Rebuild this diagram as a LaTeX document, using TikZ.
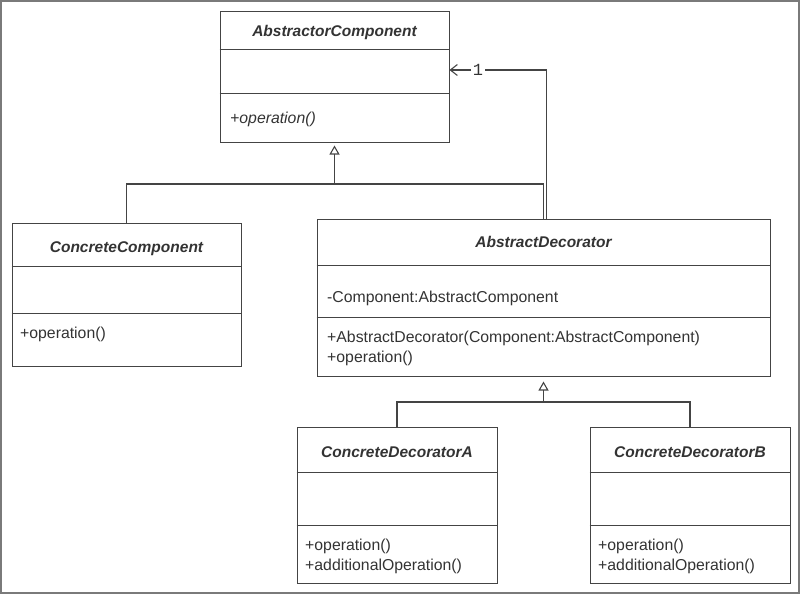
\documentclass[tikz,border=0pt]{standalone}
\usepackage{fontspec}
\setmainfont{Liberation Sans}
\newfontfamily\monofont{Liberation Mono}
\usetikzlibrary{arrows.meta}
\definecolor{txt}{HTML}{333333}
\definecolor{ln}{HTML}{444444}
\definecolor{frm}{HTML}{7A7A7A}
\begin{document}
\begin{tikzpicture}[x=1pt,y=-1pt,
  classbox/.style={draw=ln, line width=1pt, rectangle, inner sep=0pt},
  divider/.style={draw=ln, line width=1pt},
  conn/.style={draw=ln, line width=1.1pt},
  title/.style={anchor=base, inner sep=0pt, text=txt, font=\fontsize{15.5}{20}\selectfont\bfseries\itshape},
  member/.style={anchor=base west, inner sep=0pt, text=txt, font=\fontsize{15.8}{20}\selectfont},
  mult/.style={fill=white, inner sep=1.5pt, text=txt, font=\fontsize{17}{20}\selectfont\monofont},
  inherit/.style={conn, -{Triangle[open, length=9pt, width=10pt]}},
  assoc/.style={conn, -{Straight Barb[length=7pt, width=11pt]}}
]
\useasboundingbox (0,0) rectangle (800,594);
\draw[frm, line width=1.6pt] (0.8,0.8) rectangle (799.2,593.2);

% AbstractorComponent
\node[classbox, minimum width=229pt, minimum height=130pt] (ac) at (334.5,77) {};
\draw[divider] (ac.west |- 0,50) -- (ac.east |- 0,50);
\draw[divider] (ac.west |- 0,93) -- (ac.east |- 0,93);
\node[title] (actitle) at (334.5,37) {AbstractorComponent};
\node[member] (acop) at (230,123) {\itshape +operation()};

% ConcreteComponent
\node[classbox, minimum width=229pt, minimum height=143pt] (cc) at (126.5,294.5) {};
\draw[divider] (cc.west |- 0,266) -- (cc.east |- 0,266);
\draw[divider] (cc.west |- 0,313) -- (cc.east |- 0,313);
\node[title] (cctitle) at (126.5,252) {ConcreteComponent};
\node[member] (ccop) at (20,338) {+operation()};

% AbstractDecorator
\node[classbox, minimum width=453pt, minimum height=157pt] (ad) at (543.5,297.5) {};
\draw[divider] (ad.west |- 0,265) -- (ad.east |- 0,265);
\draw[divider] (ad.west |- 0,317) -- (ad.east |- 0,317);
\node[title] (adtitle) at (543.5,247) {AbstractDecorator};
\node[member] (adattr) at (327,302) {-Component:AbstractComponent};
\node[member] (adctor) at (327,342) {+AbstractDecorator(Component:AbstractComponent)};
\node[member] (adop) at (327,362) {+operation()};

% ConcreteDecoratorA
\node[classbox, minimum width=200pt, minimum height=156pt] (cda) at (397,505) {};
\draw[divider] (cda.west |- 0,472) -- (cda.east |- 0,472);
\draw[divider] (cda.west |- 0,525) -- (cda.east |- 0,525);
\node[title] (cdatitle) at (397,457) {ConcreteDecoratorA};
\node[member] (cdaop) at (305,550) {+operation()};
\node[member] (cdaadd) at (305,570) {+additionalOperation()};

% ConcreteDecoratorB
\node[classbox, minimum width=200pt, minimum height=156pt] (cdb) at (690,505) {};
\draw[divider] (cdb.west |- 0,472) -- (cdb.east |- 0,472);
\draw[divider] (cdb.west |- 0,525) -- (cdb.east |- 0,525);
\node[title] (cdbtitle) at (690,457) {ConcreteDecoratorB};
\node[member] (cdbop) at (598,550) {+operation()};
\node[member] (cdbadd) at (598,570) {+additionalOperation()};

% generalisation to AbstractorComponent
\coordinate (j1) at (334.5,184);
\draw[conn] (cc.north) |- (j1);
\draw[conn] (ad.north) |- (j1);
\draw[inherit, shorten >=3pt] (j1) -- (ac.south);

% association
\draw[assoc] ([xshift=3pt]ad.north) |- ([yshift=7pt]ac.east);
\node[mult] (one) at (478,70) {1};

% generalisation to AbstractDecorator
\coordinate (j2) at (543.5,402);
\draw[conn] (cda.north) |- (j2);
\draw[conn] (cdb.north) |- (j2);
\draw[inherit, shorten >=5pt] (j2) -- (ad.south);
\end{tikzpicture}
\end{document}
